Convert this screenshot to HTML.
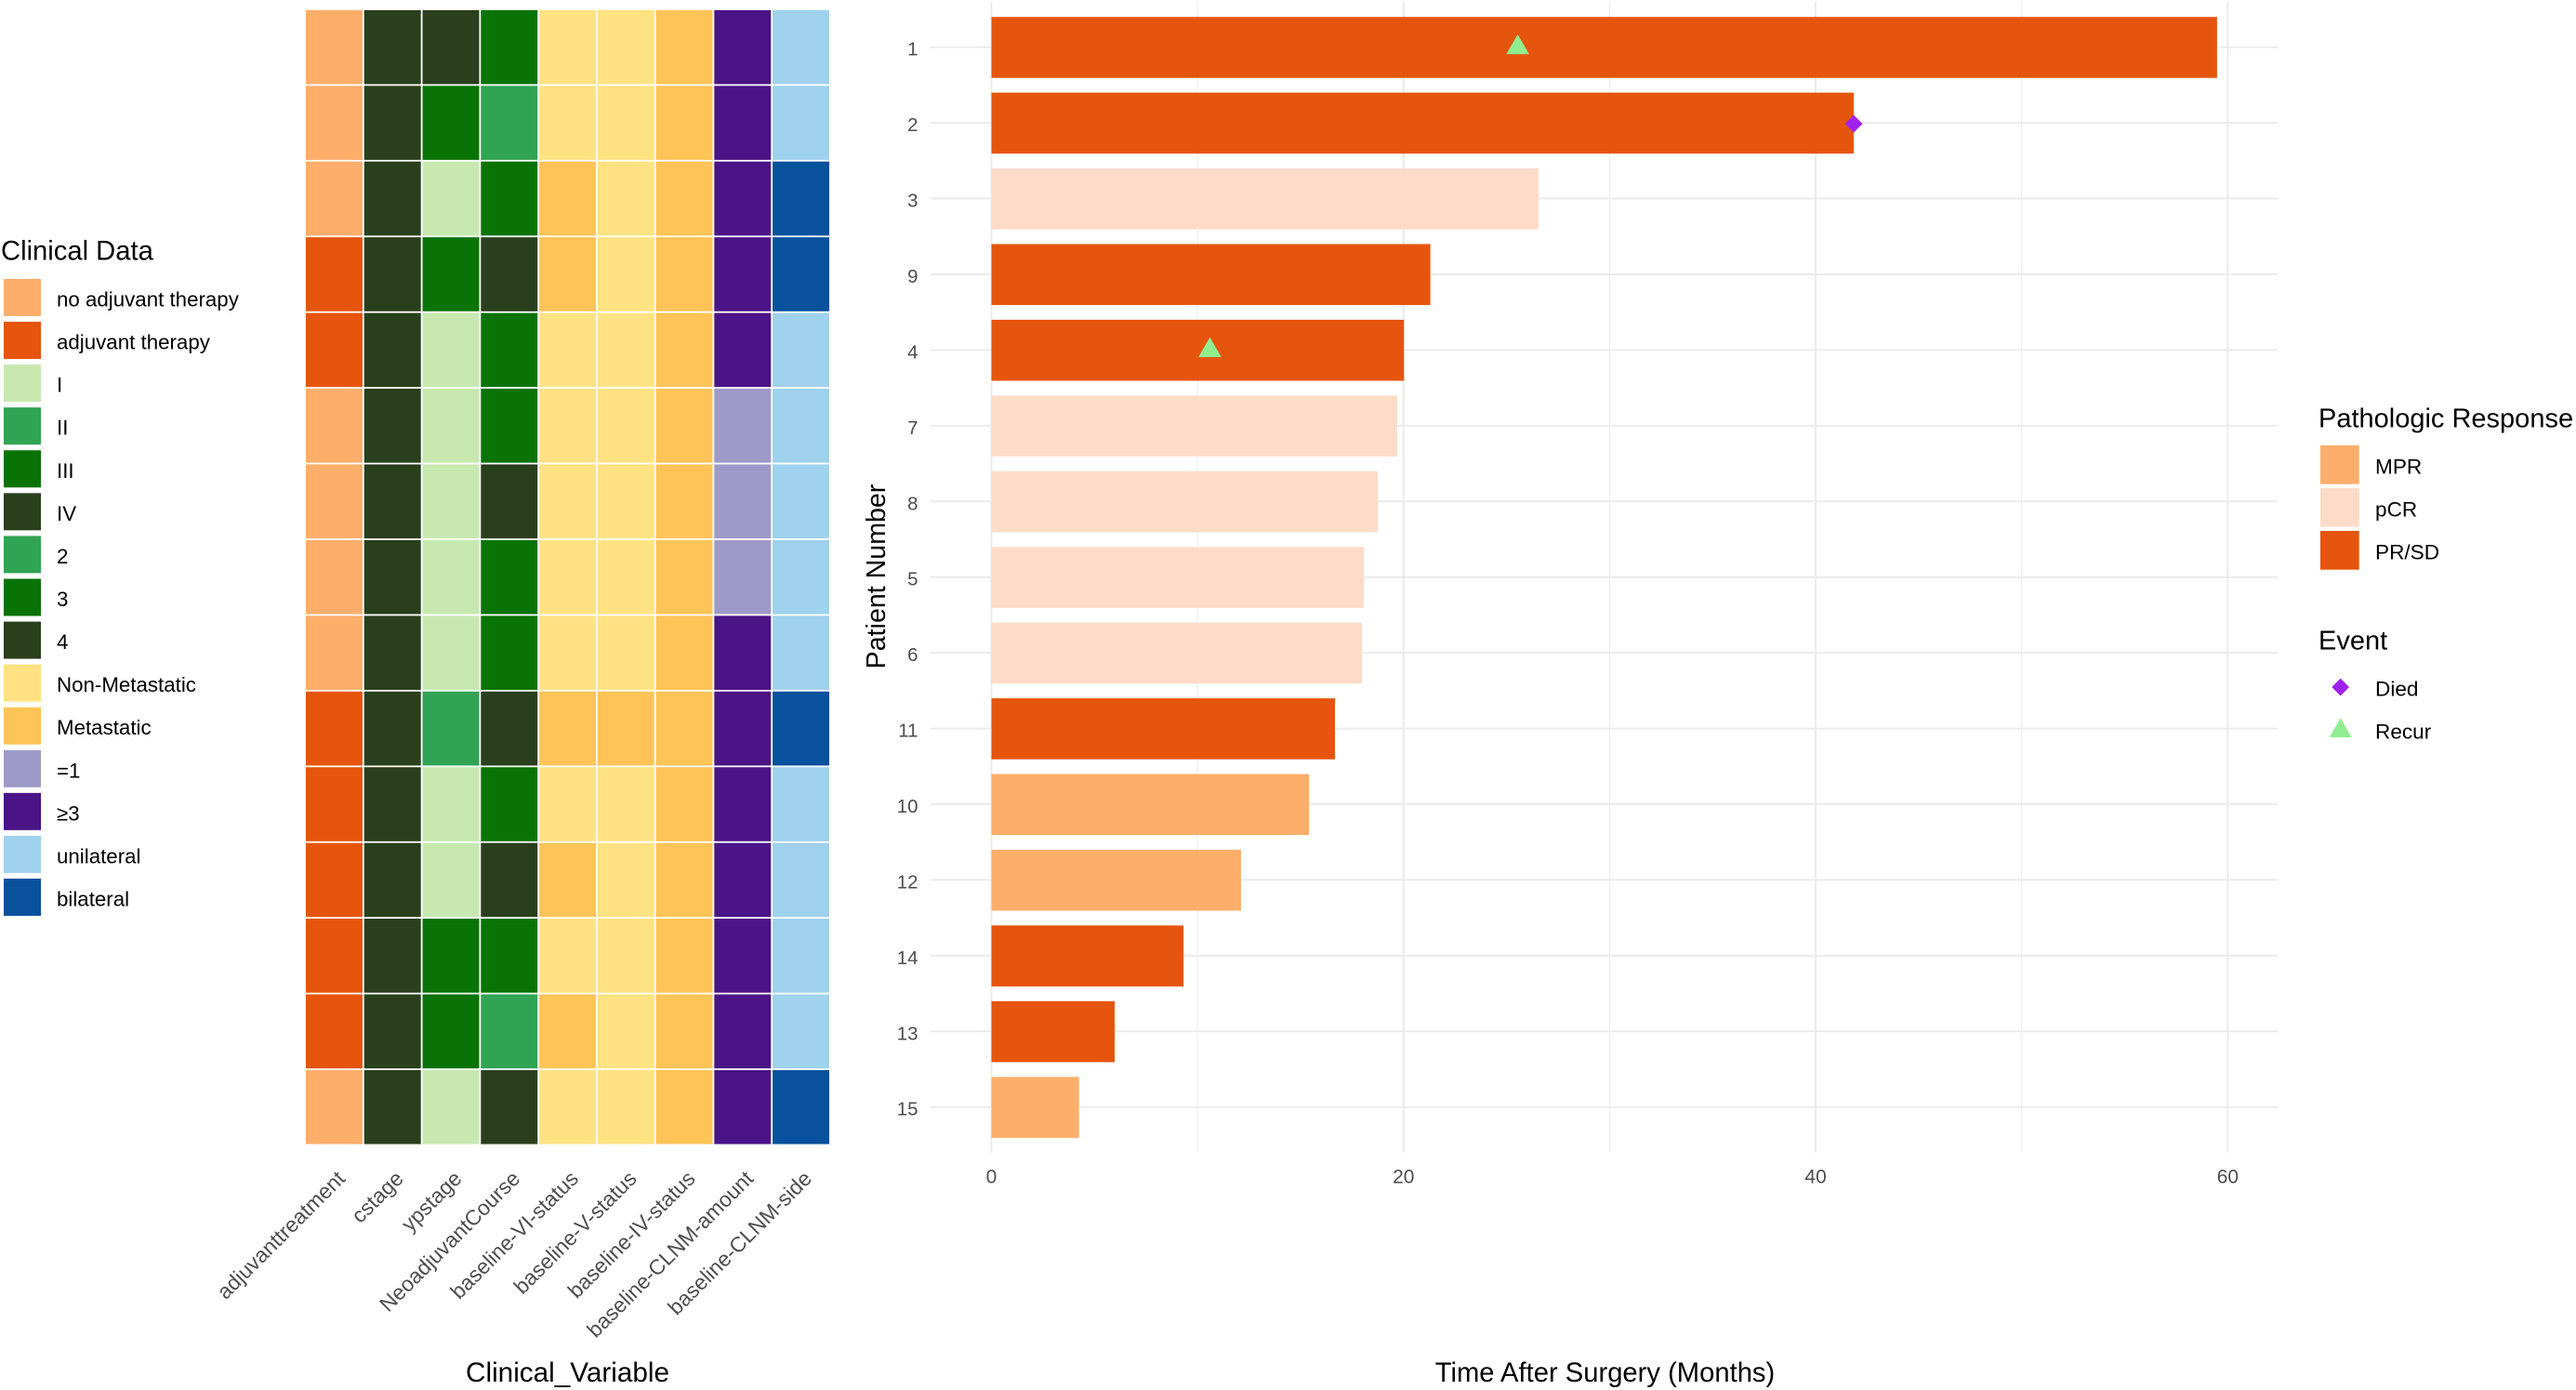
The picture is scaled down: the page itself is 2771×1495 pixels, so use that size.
<!DOCTYPE html>
<html lang="en">
<head>
<meta charset="utf-8">
<title>Clinical data heatmap and swimmer plot</title>
<style>
html,body{margin:0;padding:0;background:#fff;}
svg{display:block;font-family:"Liberation Sans",Arial,sans-serif;}
</style>
</head>
<body>
<svg id="figure" xmlns="http://www.w3.org/2000/svg" width="2771" height="1495" viewBox="0 0 2771 1495">
  <rect x="0" y="0" width="2771" height="1495" fill="#ffffff"/>
  <g id="left-legend"></g>
  <g id="heatmap"></g>
  <g id="swimmer"></g>
  <g id="right-legend"></g>
</svg>
<script>
// ---------- data ----------
const patients = ['1','2','3','9','4','7','8','5','6','11','10','12','14','13','15'];
const months = [59.48,41.85,26.55,21.3,20.02,19.69,18.75,18.07,17.98,16.67,15.41,12.11,9.32,5.98,4.25];
const responses = ['PR/SD','PR/SD','pCR','PR/SD','PR/SD','pCR','pCR','pCR','pCR','PR/SD','MPR','MPR','PR/SD','PR/SD','MPR'];

const eventPatients = ['1','2','4'];
const eventTimes = [25.54,41.85,10.6];
const eventTypes = ['Recur','Died','Recur'];

const xTicks = [0,20,40,60];
const xMinorTicks = [10,30,50];

const clinicalVariables = ['adjuvanttreatment','cstage','ypstage','NeoadjuvantCourse','baseline-VI-status','baseline-V-status','baseline-IV-status','baseline-CLNM-amount','baseline-CLNM-side'];
const adjuvantTreatment = ['no adjuvant therapy','no adjuvant therapy','no adjuvant therapy','adjuvant therapy','adjuvant therapy','no adjuvant therapy','no adjuvant therapy','no adjuvant therapy','no adjuvant therapy','adjuvant therapy','adjuvant therapy','adjuvant therapy','adjuvant therapy','adjuvant therapy','no adjuvant therapy'];
const cStage = ['IV','IV','IV','IV','IV','IV','IV','IV','IV','IV','IV','IV','IV','IV','IV'];
const ypStage = ['IV','III','I','III','I','I','I','I','I','II','I','I','III','III','I'];
const neoCourse = ['3','2','3','4','3','3','4','3','3','4','3','4','3','2','4'];
const viStatus = ['Non-Metastatic','Non-Metastatic','Metastatic','Metastatic','Non-Metastatic','Non-Metastatic','Non-Metastatic','Non-Metastatic','Non-Metastatic','Metastatic','Non-Metastatic','Metastatic','Non-Metastatic','Metastatic','Non-Metastatic'];
const vStatus = ['Non-Metastatic','Non-Metastatic','Non-Metastatic','Non-Metastatic','Non-Metastatic','Non-Metastatic','Non-Metastatic','Non-Metastatic','Non-Metastatic','Metastatic','Non-Metastatic','Non-Metastatic','Non-Metastatic','Non-Metastatic','Non-Metastatic'];
const ivStatus = ['Metastatic','Metastatic','Metastatic','Metastatic','Metastatic','Metastatic','Metastatic','Metastatic','Metastatic','Metastatic','Metastatic','Metastatic','Metastatic','Metastatic','Metastatic'];
const clnmAmount = ['≥3','≥3','≥3','≥3','≥3','=1','=1','=1','≥3','≥3','≥3','≥3','≥3','≥3','≥3'];
const clnmSide = ['unilateral','unilateral','bilateral','bilateral','unilateral','unilateral','unilateral','unilateral','unilateral','bilateral','unilateral','unilateral','unilateral','unilateral','bilateral'];
const heatColumns = [adjuvantTreatment,cStage,ypStage,neoCourse,viStatus,vStatus,ivStatus,clnmAmount,clnmSide];

const clinicalLabels = ['no adjuvant therapy','adjuvant therapy','I','II','III','IV','2','3','4','Non-Metastatic','Metastatic','=1','≥3','unilateral','bilateral'];
const clinicalColors = ['#FDAE6B','#E6550D','#C7E9B0','#31A354','#0A7305','#2A3F1C','#31A354','#0A7305','#2A3F1C','#FFE282','#FFC457','#9E9AC8','#4A1486','#9FD2EC','#08519C'];
const responseLabels = ['MPR','pCR','PR/SD'];
const responseColors = ['#FDAE6B','#FDDBC9','#E6550D'];
const eventLabels = ['Died','Recur'];
const eventColors = ['#A020F0','#90EE90'];

// ---------- scales ----------
const NS = 'http://www.w3.org/2000/svg';
const PANEL_LEFT = 1001, PANEL_RIGHT = 2450, PANEL_TOP = 2, PANEL_BOTTOM = 1239.5;
const ROW_PITCH = 81.43, ROW_START = 50.7;
const BAR_HEIGHT = 65.6;
const COL_LEFT = 328.1, COL_PITCH = 62.76, CELL_GAP = 1.8;
function xScale(v){ return 1066.5 + v * 22.165; }
function yRow(i){ return ROW_START + i * ROW_PITCH; }
function xCol(j){ return COL_LEFT + j * COL_PITCH; }
function clinicalColor(label){ return clinicalColors[clinicalLabels.indexOf(label)]; }

function shape(parent, tag, attrs){
  const el = document.createElementNS(NS, tag);
  Object.keys(attrs).forEach(function(k){ el.setAttribute(k, attrs[k]); });
  parent.appendChild(el);
  return el;
}
function label(parent, str, x, y, size, fill, anchor){
  const el = shape(parent, 'text', {x:x, y:y, 'font-size':size, fill:fill, 'text-anchor':anchor || 'start'});
  el.textContent = str;
  return el;
}
function triangle(cx, cy, halfW, up, down){
  return (cx-halfW)+','+(cy+down)+' '+(cx+halfW)+','+(cy+down)+' '+cx+','+(cy-up);
}
function diamond(cx, cy, r){
  return cx+','+(cy-r)+' '+(cx+r)+','+cy+' '+cx+','+(cy+r)+' '+(cx-r)+','+cy;
}

const TICK_COLOR = '#4D4D4D', GRID_COLOR = '#EBEBEB', INK = '#000000';

// ---------- left legend ----------
const leftLegend = document.getElementById('left-legend');
let el = label(leftLegend, 'Clinical Data', 1, 279.5, 29.2, INK);


clinicalLabels.forEach(function(name, i){
  const cy = 320 + i * 46.07;
  const sw = shape(leftLegend, 'rect', {x:4, y:cy-20, width:40, height:40, fill:clinicalColors[i]});
  
  
  const tx = label(leftLegend, name, 61, cy+9.5, 22.3, INK);
  
  
});

// ---------- heatmap ----------
const heatmap = document.getElementById('heatmap');
heatColumns.forEach(function(column, j){
  column.forEach(function(value, i){
    const cell = shape(heatmap, 'rect', {
      x: xCol(j) + CELL_GAP/2,
      y: yRow(i) - ROW_PITCH/2 + CELL_GAP/2,
      width: COL_PITCH - CELL_GAP,
      height: ROW_PITCH - CELL_GAP,
      fill: clinicalColor(value)
    });
    
    
  });
});
clinicalVariables.forEach(function(name, j){
  const cx = xCol(j) + COL_PITCH/2 + 13;
  const tick = label(heatmap, name, 0, 0, 22.9, TICK_COLOR, 'end');
  tick.setAttribute('transform', 'translate('+cx+',1269) rotate(-45)');
  
  
});
el = label(heatmap, 'Clinical_Variable', (xCol(0)+xCol(9))/2, 1486, 29.7, INK, 'middle');



// ---------- swimmer plot ----------
const swimmer = document.getElementById('swimmer');
patients.forEach(function(p, i){
  const g = shape(swimmer, 'line', {x1:PANEL_LEFT, x2:PANEL_RIGHT, y1:yRow(i), y2:yRow(i), stroke:GRID_COLOR, 'stroke-width':2});
  
  
});
xMinorTicks.forEach(function(t){
  const g = shape(swimmer, 'line', {x1:xScale(t), x2:xScale(t), y1:PANEL_TOP, y2:PANEL_BOTTOM, stroke:GRID_COLOR, 'stroke-width':1});
  
  
});
xTicks.forEach(function(t){
  const g = shape(swimmer, 'line', {x1:xScale(t), x2:xScale(t), y1:PANEL_TOP, y2:PANEL_BOTTOM, stroke:GRID_COLOR, 'stroke-width':2});
  
  
  const tick = label(swimmer, String(t), xScale(t), 1272.5, 21, TICK_COLOR, 'middle');
  
  
});
patients.forEach(function(p, i){
  const bar = shape(swimmer, 'rect', {
    x: xScale(0),
    y: yRow(i) - BAR_HEIGHT/2 + 0.3,
    width: xScale(months[i]) - xScale(0),
    height: BAR_HEIGHT,
    fill: responseColors[responseLabels.indexOf(responses[i])]
  });
  
  
  const tick = label(swimmer, p, 987.5, yRow(i)+9, 20.5, TICK_COLOR, 'end');
  
  
});
eventPatients.forEach(function(p, k){
  const cx = xScale(eventTimes[k]);
  const cy = yRow(patients.indexOf(p));
  const type = eventTypes[k];
  const color = eventColors[eventLabels.indexOf(type)];
  const pts = type === 'Died' ? diamond(cx, cy+1, 9.4) : triangle(cx, cy, 12.3, 13.7, 7.6);
  const mark = shape(swimmer, 'polygon', {points:pts, fill:color});
  
  
});
el = label(swimmer, 'Patient Number', 0, 0, 28.6, INK, 'middle');
el.setAttribute('transform', 'translate(952,620) rotate(-90)');


el = label(swimmer, 'Time After Surgery (Months)', (PANEL_LEFT+PANEL_RIGHT)/2 + 1, 1486, 29.2, INK, 'middle');



// ---------- right legend ----------
const rightLegend = document.getElementById('right-legend');
el = label(rightLegend, 'Pathologic Response', 2494, 459.5, 29, INK);


responseLabels.forEach(function(name, i){
  const cy = 500 + i * 46;
  const sw = shape(rightLegend, 'rect', {x:2496, y:cy-21, width:41.7, height:41.7, fill:responseColors[i]});
  
  
  const tx = label(rightLegend, name, 2555, cy+9.5, 22.6, INK);
  
  
});
el = label(rightLegend, 'Event', 2494, 698.5, 29, INK);


eventLabels.forEach(function(name, i){
  const cy = 739 + i * 46;
  const pts = name === 'Died' ? diamond(2517.7, cy, 9.4) : triangle(2517.7, cy+1, 11.8, 14, 7);
  const mark = shape(rightLegend, 'polygon', {points:pts, fill:eventColors[i]});
  
  
  const tx = label(rightLegend, name, 2555, cy+9.5, 22.6, INK);
  
  
});
</script>
</body>
</html>
